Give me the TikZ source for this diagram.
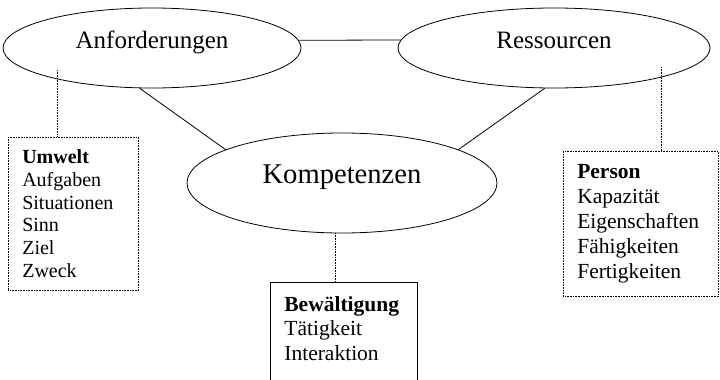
\documentclass[tikz,border=0pt]{standalone}
\usepackage{fontspec}
\setmainfont{Liberation Serif}
\usetikzlibrary{shapes.geometric}
\begin{document}
\begin{tikzpicture}[x=1pt,y=-1pt,line width=0.8pt,
		oval/.style={draw,ellipse,inner sep=0pt,text height=10pt,text depth=10pt},
		liste/.style={draw,anchor=north west,align=left,inner xsep=14pt,inner ysep=0pt},
		punkt/.style={densely dotted,line width=0.6pt}]
	\clip (0,0) rectangle (720,380);
	\node[oval,minimum width=298pt,minimum height=80pt,font=\fontsize{25}{30}\selectfont] (anf) at (152,48) {Anforderungen};
	\node[oval,minimum width=312pt,minimum height=80pt,font=\fontsize{25}{30}\selectfont] (res) at (554,48) {Ressourcen};
	\node[oval,minimum width=310pt,minimum height=100pt,font=\fontsize{28.6}{34}\selectfont] (kom) at (342,183) {Kompetenzen};
	\node[liste,punkt,text width=102pt,minimum height=153pt,font=\fontsize{20}{22.7}\selectfont] (umw) at (8,137)
		{\textbf{Umwelt}\\Aufgaben\\Situationen\\Sinn\\Ziel\\Zweck};
	\node[liste,punkt,text width=127pt,minimum height=145pt,font=\fontsize{21.5}{24.8}\selectfont] (per) at (563,151)
		{\textbf{Person}\\Kapazität\\Eigenschaften\\Fähigkeiten\\Fertigkeiten};
	\node[liste,inner ysep=14pt,text width=119pt,text depth=90pt,font=\fontsize{21.5}{24.5}\selectfont] (bew) at (270,282)
		{\textbf{Bewältigung}\\Tätigkeit\\Interaktion};
	\path (57,70) coordinate (anf_1) (661,67) coordinate (res_1) (335,233) coordinate (kom_1);
	\draw (anf.3.5) -- (res.177.2) (anf.253) -- (kom.164) (res.257) -- (kom.16);
	\foreach \x/\y in {anf_1/umw, res_1/per, kom_1/bew}{
		\draw[punkt] (\x) -- (\x |- \y.north);
	}
\end{tikzpicture}
\end{document}
